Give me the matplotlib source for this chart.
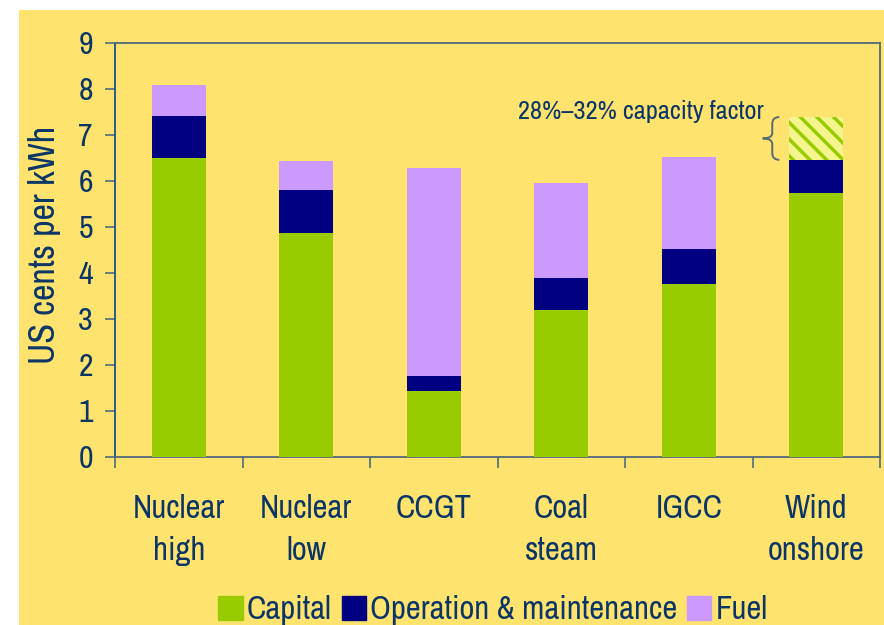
import matplotlib
matplotlib.use("Agg")
import matplotlib.pyplot as plt
import numpy as np
from matplotlib import font_manager
from matplotlib.patches import Rectangle, Patch
from matplotlib.path import Path
from matplotlib.patches import PathPatch

# ---------------------------
# Data
# ---------------------------
categories = ["Nuclear\nhigh", "Nuclear\nlow", "CCGT", "Coal\nsteam", "IGCC", "Wind\nonshore"]
capital = [6.50, 4.87, 1.43, 3.20, 3.76, 5.74]
om = [0.91, 0.93, 0.33, 0.69, 0.76, 0.72]
fuel = [0.68, 0.63, 4.52, 2.07, 2.00, 0.00]
wind_capacity_extra = [0, 0, 0, 0, 0, 0.93]
annotation_text = "28%\u201332% capacity factor"

# ---------------------------
# Style: look for a narrow sans if one is installed
# ---------------------------
names = sorted({f.name for f in font_manager.fontManager.ttflist})
if "Liberation Sans Narrow" in names:
    narrow = ["Liberation Sans Narrow"]
else:
    narrow = [n for n in names if "Narrow" in n or "Condensed" in n][:1]
plt.rcParams["font.family"] = narrow + ["Liberation Sans", "DejaVu Sans"]
scale = 1.0 if narrow else 0.9

txt_color = "#0b3566"
axis_color = "#4f6b7a"
bg_yellow = "#FFE36F"
c_capital = "#99CC00"
c_om = "#000080"
c_fuel = "#CC99FF"

fig = plt.figure(figsize=(8.84, 6.25), dpi=100)
fig.patch.set_facecolor("white")
fig.patches.append(Rectangle((19 / 884, 0), 1, 1 - 10 / 625, transform=fig.transFigure,
                             facecolor=bg_yellow, edgecolor="none", zorder=-10))

ax = fig.add_axes([115 / 884, 1 - 457 / 625, (880 - 115) / 884, (457 - 43) / 625])
ax.set_facecolor("none")

x = np.arange(len(categories))
w = 0.42
ax.bar(x, capital, w, color=c_capital, edgecolor="none", label="Capital", zorder=3)
bottom2 = np.array(capital)
ax.bar(x, om, w, bottom=bottom2, color=c_om, edgecolor="none",
       label="Operation & maintenance", zorder=3)
bottom3 = bottom2 + np.array(om)
ax.bar(x, fuel, w, bottom=bottom3, color=c_fuel, edgecolor="none", label="Fuel", zorder=3)

# hatched capacity-factor range for wind
plt.rcParams["hatch.linewidth"] = 2.5
ax.bar(x, wind_capacity_extra, w, bottom=bottom3, color="#F4F58C", edgecolor=c_capital,
       hatch="\\\\", linewidth=0, zorder=3)

# brace + annotation
wi = len(categories) - 1
y0 = bottom3[wi]
y1 = y0 + wind_capacity_extra[wi]
ym = (y0 + y1) / 2
xr = wi - 0.29
xm = wi - 0.345
xl = wi - 0.42
verts = [(xr, y1), (xm, y1), (xm, y1 - 0.15),
         (xm, ym + 0.12), (xm, ym), (xl, ym),
         (xm, ym), (xm, ym - 0.12),
         (xm, y0 + 0.15), (xm, y0), (xr, y0)]
codes = [Path.MOVETO, Path.CURVE3, Path.CURVE3,
         Path.LINETO, Path.CURVE3, Path.CURVE3,
         Path.CURVE3, Path.CURVE3,
         Path.LINETO, Path.CURVE3, Path.CURVE3]
ax.add_patch(PathPatch(Path(verts, codes), facecolor="none", edgecolor="#5a6a72",
                       linewidth=1.4, zorder=4, clip_on=False))
ax.text(wi - 0.415, 7.52, annotation_text, ha="right", va="center", fontsize=19 * scale,
        color=txt_color)

# axes
ax.set_xlim(-0.5, len(categories) - 0.5)
ax.set_ylim(0, 9)
ax.set_yticks(range(10))
ax.tick_params(axis="y", direction="out", length=7, width=1.2, color=axis_color,
               labelsize=23 * scale, labelcolor=txt_color, pad=9)
ax.set_xticks(np.arange(-0.5, len(categories), 1.0))
ax.set_xticklabels([])
ax.set_xticks(x, minor=True)
ax.set_xticklabels(categories, minor=True, fontsize=23.5 * scale, color=txt_color,
                   linespacing=1.5)
ax.tick_params(axis="x", which="major", direction="out", length=8, width=1.2, color=axis_color)
ax.tick_params(axis="x", which="minor", length=0, pad=27)
for s in ["left", "right", "top", "bottom"]:
    ax.spines[s].set_color(axis_color)
    ax.spines[s].set_linewidth(1.3)
ax.spines["left"].set_color("#1f4f85")

ax.set_ylabel("US cents per kWh", fontsize=26 * scale, color=txt_color)
ax.yaxis.set_label_coords(-0.07, 0.512)

handles = [Patch(color=c_capital), Patch(color=c_om), Patch(color=c_fuel)]
labels = ["Capital", "Operation & maintenance", "Fuel"]
fig.legend(handles, labels, loc="center", bbox_to_anchor=(493 / 884, 1 - 610 / 625),
           ncol=3, frameon=False, fontsize=23.5 * scale, labelcolor=txt_color,
           handlelength=0.75, handleheight=0.75, handletextpad=0.12, columnspacing=0.3,
           borderpad=0)

fig.savefig("out.png", dpi=100, facecolor=fig.get_facecolor())
